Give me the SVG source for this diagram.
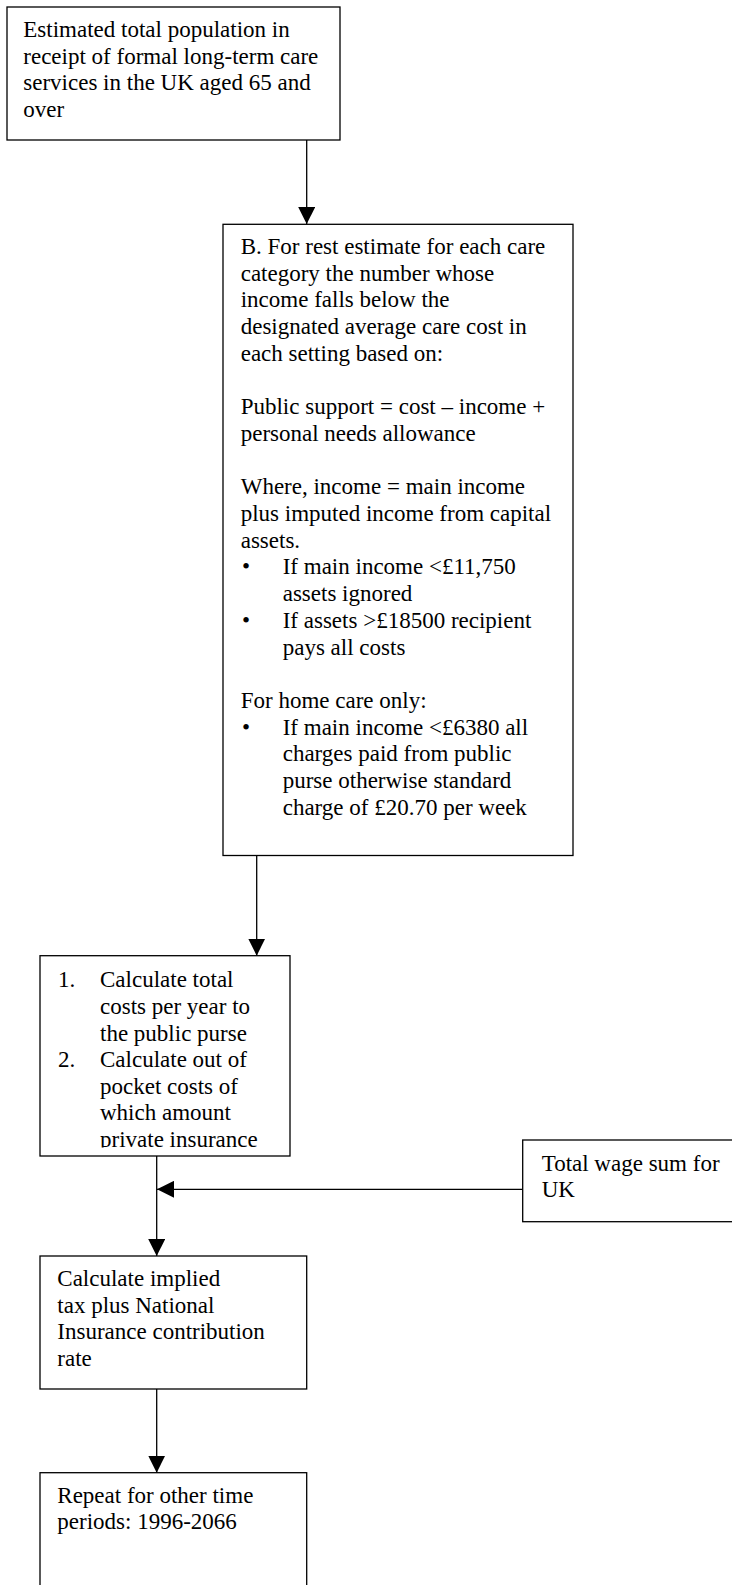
<svg xmlns="http://www.w3.org/2000/svg" width="732" height="1585" viewBox="0 0 732 1585">
  <style>
    .box { fill: #ffffff; stroke: #000000; stroke-width: 1.3; }
    .txt { font-family: "Liberation Serif", "Times New Roman", serif; font-size: 23px; fill: #000000; }
    .link { fill: none; stroke: #000000; stroke-width: 1.3; marker-end: url(#head); }
  </style>
  <defs>
    <marker id="head" viewBox="0 0 17 17" refX="17" refY="8.5" markerWidth="17" markerHeight="17" markerUnits="userSpaceOnUse" orient="auto">
      <path d="M0,0 L17,8.5 L0,17 Z" fill="#000000"/>
    </marker>
    <clipPath id="clip-calc">
      <rect x="40" y="956" width="250" height="191.5"/>
    </clipPath>
  </defs>
  <rect width="732" height="1585" fill="#ffffff"/>

  <!-- connectors -->
  <g id="connectors">
    <path class="link" d="M306.7,140 V224"/>
    <path class="link" d="M256.7,855.5 V955.7"/>
    <path class="link" d="M156.7,1156 V1256"/>
    <path class="link" d="M522.7,1189.3 H157"/>
    <path class="link" d="M156.7,1389 V1472.7"/>
  </g>

  <!-- population in receipt of care -->
  <g id="population">
    <rect class="box" x="7" y="7" width="333" height="133"/>
    <text class="txt">
      <tspan x="23.3" y="37.3">Estimated total population in</tspan>
      <tspan x="23.3" y="63.8">receipt of formal long-term care</tspan>
      <tspan x="23.3" y="90.3">services in the UK aged 65 and</tspan>
      <tspan x="23.3" y="116.8">over</tspan>
    </text>
  </g>

  <!-- means-test estimate -->
  <g id="means-test">
    <rect class="box" x="223" y="224.3" width="350" height="631.2"/>
    <text class="txt">
      <tspan x="240.7" y="254">B. For rest estimate for each care</tspan>
      <tspan x="240.7" y="280.7">category the number whose</tspan>
      <tspan x="240.7" y="307.4">income falls below the</tspan>
      <tspan x="240.7" y="334.1">designated average care cost in</tspan>
      <tspan x="240.7" y="360.8">each setting based on:</tspan>
      <tspan x="240.7" y="414.2">Public support = cost – income +</tspan>
      <tspan x="240.7" y="440.9">personal needs allowance</tspan>
      <tspan x="240.7" y="494.3">Where, income = main income</tspan>
      <tspan x="240.7" y="521">plus imputed income from capital</tspan>
      <tspan x="240.7" y="547.7">assets.</tspan>
      <tspan x="242" y="574.4">•</tspan>
      <tspan x="282.7" y="574.4">If main income &lt;£11,750</tspan>
      <tspan x="282.7" y="601.1">assets ignored</tspan>
      <tspan x="242" y="627.8">•</tspan>
      <tspan x="282.7" y="627.8">If assets &gt;£18500 recipient</tspan>
      <tspan x="282.7" y="654.5">pays all costs</tspan>
      <tspan x="240.7" y="707.9">For home care only:</tspan>
      <tspan x="242" y="734.6">•</tspan>
      <tspan x="282.7" y="734.6">If main income &lt;£6380 all</tspan>
      <tspan x="282.7" y="761.3">charges paid from public</tspan>
      <tspan x="282.7" y="788">purse otherwise standard</tspan>
      <tspan x="282.7" y="814.7">charge of £20.70 per week</tspan>
    </text>
  </g>

  <!-- cost calculation -->
  <g id="costs">
    <rect class="box" x="40" y="955.7" width="250" height="200.3"/>
    <text class="txt" clip-path="url(#clip-calc)">
      <tspan x="58" y="987.3">1.</tspan>
      <tspan x="100" y="987.3">Calculate total</tspan>
      <tspan x="100" y="1013.9">costs per year to</tspan>
      <tspan x="100" y="1040.5">the public purse</tspan>
      <tspan x="58" y="1067">2.</tspan>
      <tspan x="100" y="1067">Calculate out of</tspan>
      <tspan x="100" y="1093.6">pocket costs of</tspan>
      <tspan x="100" y="1120.2">which amount</tspan>
      <tspan x="100" y="1146.8">private insurance</tspan>
    </text>
  </g>

  <!-- wage sum -->
  <g id="wage-sum">
    <rect class="box" x="522.7" y="1140" width="230" height="81.7"/>
    <text class="txt">
      <tspan x="541.7" y="1170.7">Total wage sum for</tspan>
      <tspan x="541.7" y="1197.2">UK</tspan>
    </text>
  </g>

  <!-- contribution rate -->
  <g id="rate">
    <rect class="box" x="40" y="1256" width="266.7" height="133"/>
    <text class="txt">
      <tspan x="57.3" y="1286">Calculate implied</tspan>
      <tspan x="57.3" y="1312.6">tax plus National</tspan>
      <tspan x="57.3" y="1339.2">Insurance contribution</tspan>
      <tspan x="57.3" y="1365.8">rate</tspan>
    </text>
  </g>

  <!-- repeat for other periods -->
  <g id="repeat">
    <rect class="box" x="40" y="1472.7" width="266.7" height="140"/>
    <text class="txt">
      <tspan x="57.3" y="1502.7">Repeat for other time</tspan>
      <tspan x="57.3" y="1529.2">periods: 1996-2066</tspan>
    </text>
  </g>
</svg>
